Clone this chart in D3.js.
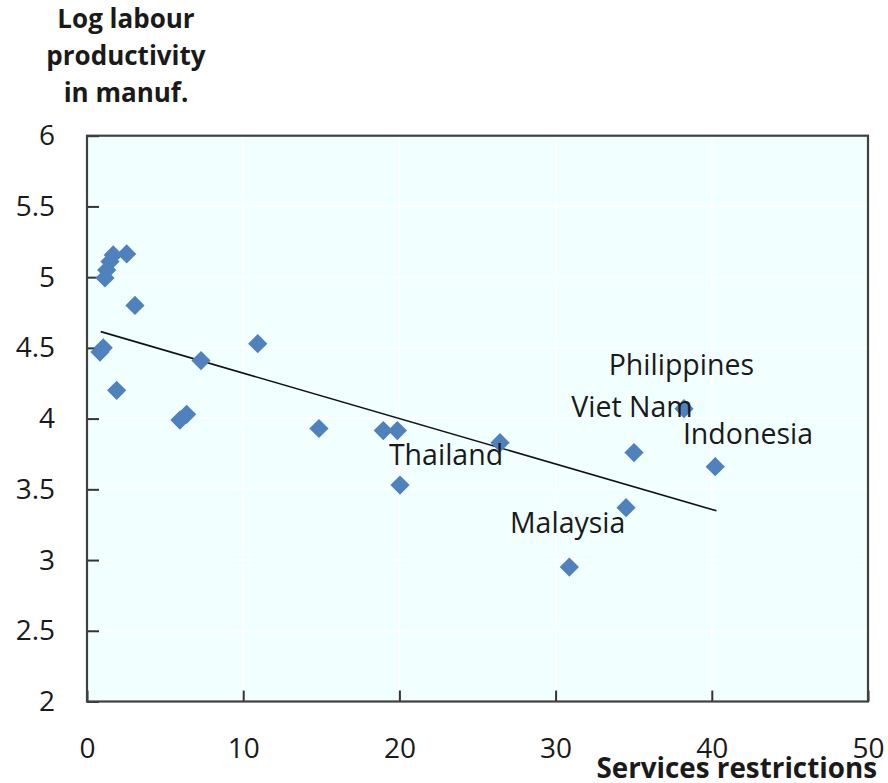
<!DOCTYPE html>
<html>
<head>
<meta charset="utf-8">
<script src="https://cdn.jsdelivr.net/npm/d3@7/dist/d3.min.js"></script>
<style>
  html, body { margin: 0; padding: 0; background: #ffffff; }
  svg { display: block; }
  text { font-family: "Open Sans", "Noto Sans", sans-serif; fill: #1a1a1a; }
</style>
</head>
<body>
<svg id="chart" width="888" height="783"></svg>
<script>
// ---- Data ----
const servicesRestrictions = [2.54, 1.68, 1.47, 1.26, 1.15, 3.07, 0.83, 1.04, 1.90, 5.95, 6.38, 7.30, 10.93, 14.85, 18.97, 19.87, 20.04, 26.44, 30.88, 34.51, 35.02, 38.22, 40.22];
const logProductivity    = [5.164, 5.157, 5.11, 5.05, 4.994, 4.80, 4.47, 4.50, 4.20, 3.99, 4.03, 4.41, 4.53, 3.93, 3.915, 3.915, 3.53, 3.83, 2.95, 3.37, 3.76, 4.07, 3.66];

const trendX = [0.88, 40.3];
const trendY = [4.615, 3.348];

const labelNames = ["Philippines", "Viet Nam", "Indonesia", "Thailand", "Malaysia"];
const labelX = [33.4, 31.0, 38.15, 19.33, 27.08];
const labelY = [4.31, 4.01, 3.82, 3.67, 3.19];

const xTicks = [0, 10, 20, 30, 40, 50];
const yTicks = [2, 2.5, 3, 3.5, 4, 4.5, 5, 5.5, 6];

const yTitleLines = ["Log labour", "productivity", "in manuf."];
const xTitle = "Services restrictions";

// ---- Layout ----
const svg = d3.select("#chart");
const plot = { left: 87, right: 868, top: 135.7, bottom: 701.5 };

const x = d3.scaleLinear().domain([0, 50]).range([plot.left, plot.right]);
const y = d3.scaleLinear().domain([2, 6]).range([plot.bottom, plot.top]);

// background
svg.append("rect")
  .attr("x", plot.left).attr("y", plot.top)
  .attr("width", plot.right - plot.left).attr("height", plot.bottom - plot.top)
  .attr("fill", "#f1ffff");

// gridlines (faint white)
svg.append("g").selectAll("line.gx").data(xTicks.slice(1, -1)).join("line")
  .attr("x1", d => x(d)).attr("x2", d => x(d))
  .attr("y1", plot.top).attr("y2", plot.bottom)
  .attr("stroke", "#ffffff").attr("stroke-width", 1.5);
svg.append("g").selectAll("line.gy").data(yTicks.slice(1, -1)).join("line")
  .attr("x1", plot.left).attr("x2", plot.right)
  .attr("y1", d => y(d)).attr("y2", d => y(d))
  .attr("stroke", "#ffffff").attr("stroke-width", 1.5);

// axes (ticks inside)
const yAxis = d3.axisLeft(y).tickValues(yTicks).tickSizeInner(-12).tickSizeOuter(0).tickPadding(32).tickFormat(d3.format(""));
const gy = svg.append("g").attr("transform", `translate(${plot.left},0)`).call(yAxis);
gy.select(".domain").remove();
gy.selectAll(".tick line").attr("stroke", "#333").attr("stroke-width", 2);
gy.selectAll(".tick text").attr("font-size", 28).attr("fill", "#1a1a1a")
  .attr("font-family", "'Open Sans', sans-serif");

const xAxis = d3.axisBottom(x).tickValues(xTicks).tickSizeInner(-11).tickSizeOuter(0).tickPadding(0).tickFormat(d3.format(""));
const gx = svg.append("g").attr("transform", `translate(0,${plot.bottom})`).call(xAxis);
gx.select(".domain").remove();
gx.selectAll(".tick line").attr("stroke", "#333").attr("stroke-width", 2);
gx.selectAll(".tick text").attr("font-size", 28).attr("fill", "#1a1a1a")
  .attr("font-family", "'Open Sans', sans-serif")
  .attr("dy", null).attr("y", 56);

// frame
svg.append("rect")
  .attr("x", plot.left).attr("y", plot.top)
  .attr("width", plot.right - plot.left).attr("height", plot.bottom - plot.top)
  .attr("fill", "none").attr("stroke", "#404040").attr("stroke-width", 2.2);

// trend line
svg.append("line")
  .attr("x1", x(trendX[0])).attr("y1", y(trendY[0]))
  .attr("x2", x(trendX[1])).attr("y2", y(trendY[1]))
  .attr("stroke", "#111").attr("stroke-width", 1.6);

// points (diamonds)
const pts = servicesRestrictions.map((v, i) => ({ x: v, y: logProductivity[i] }));
const diamond = d3.symbol().type(d3.symbolSquare).size(185);
svg.append("g").selectAll("path").data(pts).join("path")
  .attr("d", diamond)
  .attr("transform", d => `translate(${x(d.x)},${y(d.y)}) rotate(45)`)
  .attr("fill", "#4f81bd");

// country labels
svg.append("g").selectAll("text").data(labelNames).join("text")
  .attr("x", (d, i) => x(labelX[i]))
  .attr("y", (d, i) => y(labelY[i]))
  .attr("font-size", 28.5)
  .attr("fill", "#1a1a1a")
  .text(d => d);

// y title
svg.append("g").selectAll("text").data(yTitleLines).join("text")
  .attr("x", 126)
  .attr("y", (d, i) => 28 + i * 37)
  .attr("text-anchor", "middle")
  .attr("font-size", 26)
  .attr("font-weight", "bold")
  .attr("fill", "#1a1a1a")
  .text(d => d);

// x title
svg.append("text")
  .attr("x", 877).attr("y", 778)
  .attr("text-anchor", "end")
  .attr("font-size", 27.8)
  .attr("font-weight", "bold")
  .attr("fill", "#1a1a1a")
  .text(xTitle);
</script>
</body>
</html>
